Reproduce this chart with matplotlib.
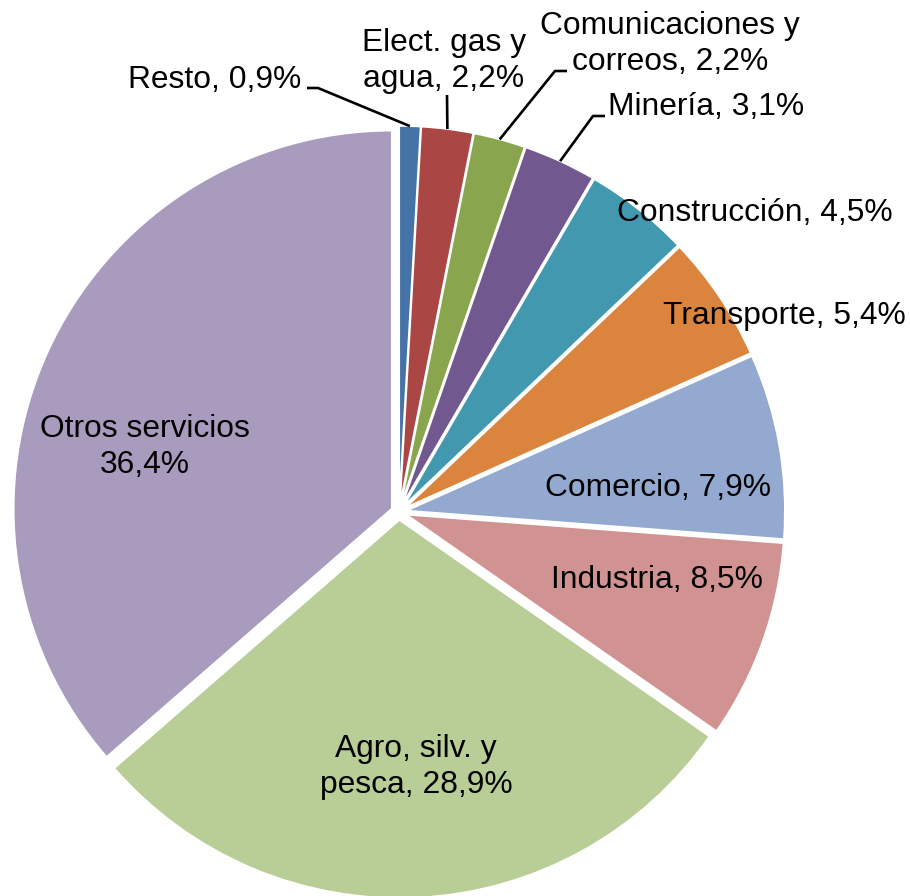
import matplotlib
matplotlib.use("Agg")
import numpy as np
import matplotlib.pyplot as plt

plt.rcParams['font.family'] = ['Liberation Sans', 'DejaVu Sans']

# data, clockwise from 12 o'clock
sectores = ['Resto', 'Elect. gas y\nagua', 'Comunicaciones y\ncorreos', 'Minería',
            'Construcción', 'Transporte', 'Comercio', 'Industria',
            'Agro, silv. y\npesca', 'Otros servicios\n']
valores = [0.9, 2.2, 2.2, 3.1, 4.5, 5.4, 7.9, 8.5, 28.9, 36.4]
colores = ['#4572A7', '#AA4643', '#89A54E', '#71588F', '#4198AF',
           '#DB843D', '#93A9CF', '#D19392', '#B9CD96', '#A99BBD']

W, H = 910, 896
cx, cy, R = 399, 512, 378
fs = 22.9


def px(x, y):
    # image pixel coords -> axes data coords (y up)
    return x, -y


fig = plt.figure(figsize=(W / 100, H / 100), dpi=100)
ax = fig.add_axes([0, 0, 1, 1])

# explode is in data units here (pixels)
wedges, _ = ax.pie(valores, colors=colores, startangle=90, counterclock=False,
                   radius=R, center=px(cx, cy), explode=[8] * len(valores),
                   wedgeprops=dict(edgecolor='white', linewidth=1.2))
ax.set_xlim(0, W)
ax.set_ylim(-H, 0)
ax.set_aspect('equal')
ax.axis('off')


def etiqueta(i):
    txt = sectores[i]
    if txt.endswith('\n'):
        return txt + f'{valores[i]:.1f}%'.replace('.', ',')
    return txt + f', {valores[i]:.1f}%'.replace('.', ',')


# label positions (pixels) and alignment
pos = {
    0: (301, 80, 'right'),
    1: (444, 61, 'center'),
    2: (670, 44, 'center'),
    3: (608, 107, 'left'),
    4: (755, 213, 'center'),
    5: (784, 316, 'center'),
    6: (658, 488, 'center'),
    7: (657, 580, 'center'),
    8: (416, 767, 'center'),
    9: (145, 447, 'center'),
}
for i, (x, y, ha) in pos.items():
    ax.text(*px(x, y), etiqueta(i), fontsize=fs, ha=ha, va='center',
            multialignment='center', linespacing=1.26, color='black')

# leader lines: elbow points in pixels, end at the wedge's outer mid-point
codos = {
    0: [(307, 88), (318, 88)],
    1: [(447, 95)],
    2: [(567, 71), (555, 71)],
    3: [(605, 116), (593, 116)],
}
for i, pts in codos.items():
    w = wedges[i]
    tm = np.deg2rad((w.theta1 + w.theta2) / 2)
    ex = w.center[0] + w.r * np.cos(tm)
    ey = w.center[1] + w.r * np.sin(tm)
    xs = [p[0] for p in pts] + [ex]
    ys = [-p[1] for p in pts] + [ey]
    ax.plot(xs, ys, color='black', linewidth=1.9, solid_capstyle='butt')

fig.savefig('out.png', dpi=100, facecolor='white')
